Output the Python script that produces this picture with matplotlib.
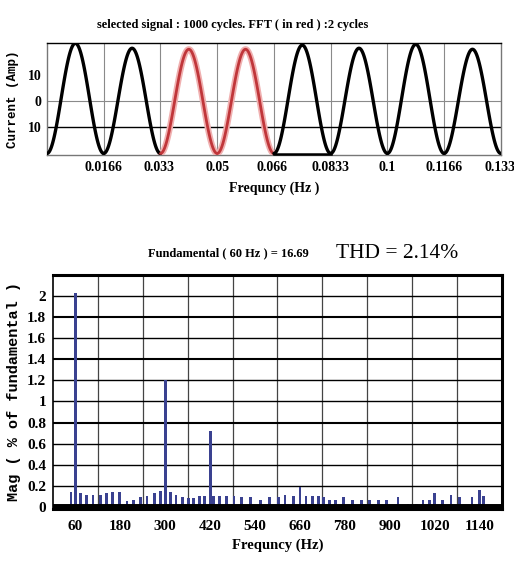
import numpy as np
import matplotlib
matplotlib.use('Agg')
import matplotlib.pyplot as plt

plt.rcParams['font.family'] = ['Liberation Serif', 'DejaVu Serif']

# ---- top panel: time waveform (8 cycles of 60 Hz) ----
F0 = 60.0
cycle_peaks = [22.2, 20.3, 19.9, 19.9, 21.5, 20.3, 21.8, 19.9]
trough = -20.2
red_cycles = [2, 3]
time_ticks = [0.0166, 0.033, 0.05, 0.066, 0.0833, 0.1, 0.1166, 0.133]
time_ticklabels = ['0.0166', '0.033', '0.05', '0.066', '0.0833', '0.1', '0.1166', '0.133']
amp_ticks = [10, 0, -10]
amp_ticklabels = ['10', '0', '10']

# ---- bottom panel: harmonic spectrum ----
freqs = [48, 60, 73, 89, 107, 127, 143, 158, 178, 198, 216, 233, 251, 271, 287,
         300, 313, 329, 347, 362, 376, 391, 404, 420, 429, 445, 464, 484, 504,
         527, 555, 578, 602, 620, 642, 660, 676, 694, 709, 724, 740, 756, 776,
         800, 824, 845, 869, 891, 922, 949, 971, 989, 1007, 1020, 1042, 1064,
         1087, 1120, 1140, 1151]
mags = [0.14, 2.03, 0.13, 0.11, 0.11, 0.11, 0.13, 0.14, 0.14, 0.06, 0.07, 0.09,
        0.10, 0.13, 0.15, 1.20, 0.14, 0.11, 0.09, 0.08, 0.08, 0.10, 0.10, 0.72,
        0.10, 0.10, 0.10, 0.10, 0.09, 0.09, 0.07, 0.09, 0.09, 0.11, 0.10, 0.19,
        0.10, 0.10, 0.10, 0.09, 0.07, 0.07, 0.09, 0.07, 0.07, 0.07, 0.07, 0.07,
        0.09, 0.03, 0.03, 0.07, 0.07, 0.13, 0.07, 0.11, 0.09, 0.09, 0.16, 0.10]
freq_ticks = [60, 180, 300, 420, 540, 660, 780, 900, 1020, 1140]
freq_grid = [120, 240, 360, 480, 600, 720, 840, 960, 1080]
mag_ticks = [0, 0.2, 0.4, 0.6, 0.8, 1, 1.2, 1.4, 1.6, 1.8, 2]
mag_ticklabels = ['0', '0.2', '0.4', '0.6', '0.8', '1', '1.2', '1.4', '1.6', '1.8', '2']

fig = plt.figure(figsize=(5.14, 5.61), dpi=100)

# ================= top panel =================
ax1 = fig.add_axes([0.0914, 0.7237, 0.883, 0.1996])
for k, pk in enumerate(cycle_peaks):
    t = np.linspace(k / F0, (k + 1) / F0, 80)
    y = trough + (pk - trough) * (1 - np.cos(2 * np.pi * F0 * t)) / 2
    if k in red_cycles:
        ax1.plot(t, y, color='#f0b0b0', lw=4.5, solid_capstyle='round', zorder=3)
        ax1.plot(t, y, color='#c0363a', lw=2.0, solid_capstyle='round', zorder=4)
    else:
        ax1.plot(t, y, color='black', lw=2.4, solid_capstyle='round', zorder=4)

for k in range(1, 8):
    ax1.axvline(k / F0, color='#8a8a8a', lw=0.8, zorder=1)
ax1.axhline(0, color='#8a8a8a', lw=0.8, zorder=1)
ax1.axhline(-10, color='black', lw=1.0, zorder=1)

ax1.set_xlim(0, 8 / F0)
ax1.set_ylim(-20.8, 22.3)
ax1.set_xticks(time_ticks)
ax1.set_xticklabels(time_ticklabels, fontsize=10, fontweight='bold')
ax1.set_yticks(amp_ticks)
ax1.set_yticklabels(amp_ticklabels, fontsize=10, fontweight='bold')
ax1.tick_params(length=0, pad=4)
for side in ['left', 'right', 'bottom']:
    ax1.spines[side].set_color('#777777')
    ax1.spines[side].set_linewidth(1.0)
ax1.spines['top'].set_color('black')
ax1.spines['top'].set_linewidth(1.0)
ax1.plot([4 / F0, 5 / F0], [-20.6, -20.6], color='black', lw=1.8, zorder=5, clip_on=False)

ax1.set_xlabel('Frequncy (Hz )', fontsize=10, fontweight='bold', labelpad=6)
ax1.set_ylabel('Current (Amp)', fontsize=9, fontweight='bold',
               family='Liberation Mono', labelpad=6)
fig.text(0.453, 0.955, 'selected signal : 1000 cycles. FFT ( in red ) :2 cycles',
         fontsize=9, fontweight='bold', ha='center', va='center')

# ================= bottom panel =================
ax2 = fig.add_axes([0.1031, 0.0927, 0.8735, 0.4171])
ax2.set_xlim(0, 1200)
ax2.set_ylim(-0.02, 2.2)
for g in freq_grid:
    ax2.axvline(g, color='#444444', lw=0.9, zorder=1)
for m in mag_ticks[1:]:
    lw = 1.5 if m in (0.8, 1.4, 1.8) else 1.0
    ax2.axhline(m, color='black', lw=lw, zorder=1)

ax2.bar(freqs, mags, width=7.5, color='#3a4190', zorder=2)
ax2.axhline(-0.005, color='black', lw=5, zorder=3)

ax2.set_xticks(freq_ticks)
ax2.set_xticklabels([str(f) for f in freq_ticks], fontsize=11, fontweight='bold')
ax2.set_yticks(mag_ticks)
ax2.set_yticklabels(mag_ticklabels, fontsize=11, fontweight='bold')
ax2.tick_params(length=0)
ax2.tick_params(axis='x', pad=8)
ax2.tick_params(axis='y', pad=5)
for side in ['top', 'right', 'bottom']:
    ax2.spines[side].set_linewidth(2.2)
ax2.spines['left'].set_linewidth(1.2)

ax2.set_xlabel('Frequncy (Hz)', fontsize=10.5, fontweight='bold', labelpad=4)
ax2.set_ylabel('Mag ( % of fundamental )', fontsize=11, fontweight='bold',
               family='Liberation Mono', labelpad=4)

fig.text(0.445, 0.548, 'Fundamental ( 60 Hz ) = 16.69', fontsize=9,
         fontweight='bold', ha='center', va='center')
fig.text(0.773, 0.548, 'THD = 2.14%', fontsize=15.5, ha='center', va='center')

fig.savefig('out.png', dpi=100)
